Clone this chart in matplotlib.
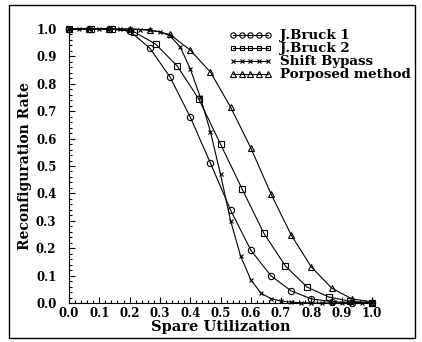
import matplotlib.pyplot as plt
import numpy as np
from matplotlib.patches import Rectangle
from matplotlib.ticker import MultipleLocator

# data
x15 = [i / 15 for i in range(16)]
x14 = [i / 14 for i in range(15)]
x30 = [i / 30 for i in range(31)]

bruck1 = [1.0, 1.0, 1.0, 0.993, 0.93, 0.825, 0.679, 0.511, 0.339, 0.193,
          0.099, 0.044, 0.015, 0.005, 0.001, 0.0]
bruck2 = [1.0, 1.0, 1.0, 0.99, 0.945, 0.865, 0.744, 0.58, 0.416, 0.255,
          0.135, 0.058, 0.022, 0.006, 0.001]
shift = [1.0, 1.0, 1.0, 1.0, 1.0, 1.0, 1.0, 0.998, 0.995, 0.99, 0.975,
         0.935, 0.855, 0.752, 0.625, 0.47, 0.30, 0.17, 0.085, 0.036, 0.016,
         0.007, 0.003, 0.001, 0.0, 0.0, 0.0, 0.0, 0.0, 0.0, 0.0]
proposed = [1.0, 1.0, 1.0, 1.0, 0.997, 0.98, 0.923, 0.843, 0.715, 0.566,
            0.398, 0.248, 0.131, 0.055, 0.015, 0.004]

plt.rcParams['font.family'] = 'DejaVu Serif'
plt.rcParams['font.weight'] = 'bold'

fig = plt.figure(figsize=(4.22, 3.42), dpi=100)
ax = fig.add_axes([69 / 422, 1 - 303 / 342, 303 / 422, 274 / 342])

kw = dict(color='black', lw=0.8, mfc='none', mec='black', clip_on=False)
ax.plot(x15, bruck1, marker='o', ms=4.5, mew=0.8, label='J.Bruck 1', **kw)
ax.plot(x14, bruck2, marker='s', ms=4, mew=0.8, label='J.Bruck 2', **kw)
ax.plot(x30, shift, marker='x', ms=3, mew=0.8, label='Shift Bypass', **kw)
ax.plot(x15, proposed, marker='^', ms=4.5, mew=0.8, label='Porposed method', **kw)

ax.set_xlim(0, 1)
ax.set_ylim(0, 1)
ax.xaxis.set_major_locator(MultipleLocator(0.1))
ax.yaxis.set_major_locator(MultipleLocator(0.1))
ax.xaxis.set_minor_locator(MultipleLocator(0.02))
ax.yaxis.set_minor_locator(MultipleLocator(0.02))
ax.xaxis.set_major_formatter(lambda v, p: '%.1f' % v)
ax.yaxis.set_major_formatter(lambda v, p: '%.1f' % v)
ax.tick_params(which='both', direction='in', labelsize=8.5, width=0.8)
ax.tick_params(which='major', length=4)
ax.tick_params(which='minor', length=2.5)
ax.tick_params(axis='x', pad=3)
ax.tick_params(axis='y', pad=9)
ax.spines['top'].set_visible(False)
ax.spines['right'].set_visible(False)

ax.set_xlabel('Spare Utilization', fontsize=10.5, fontweight='bold', labelpad=0)
ax.set_ylabel('Reconfiguration Rate', fontsize=10, fontweight='bold', labelpad=3)

leg = ax.legend(loc='upper left', bbox_to_anchor=(0.528, 0.999), frameon=False,
                numpoints=5, markerscale=0.85, handlelength=3.2,
                handletextpad=0.6, labelspacing=0.0, borderpad=0,
                borderaxespad=0, prop={'weight': 'bold', 'size': 9.6})

fig.patches.append(Rectangle((9 / 422, 1 - 338 / 342), 406 / 422, 333 / 342,
                             transform=fig.transFigure, fill=False,
                             lw=1.0, ec='black'))

fig.savefig('out.png', dpi=100)
